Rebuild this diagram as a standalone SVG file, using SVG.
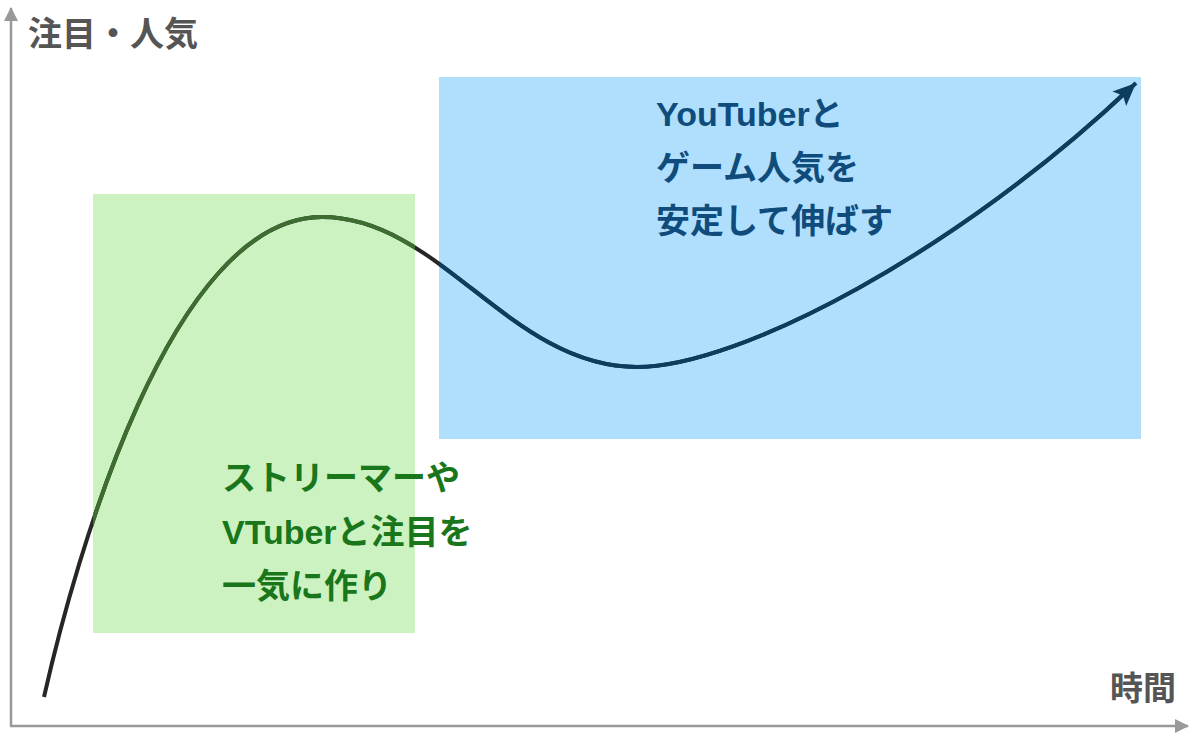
<svg xmlns="http://www.w3.org/2000/svg" width="1200" height="739" viewBox="0 0 1200 739">
<style>
  .lbl { font-family: "Liberation Sans", "Noto Sans CJK JP", sans-serif; font-weight: bold; font-size: 34px; }
  .axis { stroke: #999999; stroke-width: 2.5; fill: none; }
  .curve { fill: none; stroke-width: 4; stroke-linecap: butt; }
</style>
<defs>
  <clipPath id="clipGreen"><rect x="93" y="194" width="322" height="439"/></clipPath>
  <clipPath id="clipBlue"><rect x="439" y="77" width="702" height="362"/></clipPath>
  <marker id="axisHead" markerUnits="userSpaceOnUse" markerWidth="16" markerHeight="16" refX="13" refY="7" orient="auto">
    <path d="M0,0 L14,7 L0,14 z" fill="#999999"/>
  </marker>
  <marker id="curveHead" markerUnits="userSpaceOnUse" markerWidth="26" markerHeight="22" refX="23" refY="10" orient="auto">
    <path d="M0,0 L23,10 L0,20 L5,10 z" fill="#0b3d60"/>
  </marker>
</defs>

<g id="zone-green">
  <rect x="93" y="194" width="322" height="439" fill="#ccf2c2"/>
</g>
<g id="zone-blue">
  <rect x="439" y="77" width="702" height="362" fill="#b0dffe"/>
</g>

<g id="axes">
  <path class="axis" d="M11,726 L11,8" marker-end="url(#axisHead)"/>
  <path class="axis" d="M10,726 L1188,726" marker-end="url(#axisHead)"/>
</g>

<g id="connectors">
  <path class="curve" stroke="#262626" d="M44,697 C75,560 170,217 322,217 C440,217 510,367 637,367 C740,367 960,250 1130,88"/>
  <path class="curve" stroke="#3d6e30" clip-path="url(#clipGreen)" d="M44,697 C75,560 170,217 322,217 C440,217 510,367 637,367 C740,367 960,250 1130,88"/>
  <path class="curve" stroke="#0b3d60" clip-path="url(#clipBlue)" d="M44,697 C75,560 170,217 322,217 C440,217 510,367 637,367 C740,367 960,250 1136,83" marker-end="url(#curveHead)"/>
</g>

<g id="label-y">
  <text class="lbl" x="28" y="46" fill="#555555">注目・人気</text>
</g>
<g id="label-x">
  <text class="lbl" x="1110" y="700" fill="#555555" style="font-size:33px">時間</text>
</g>

<g id="text-green">
  <text class="lbl" x="222" y="490" fill="#19761a">ストリーマーや</text>
  <text class="lbl" x="222" y="544" fill="#19761a">VTuberと注目を</text>
  <text class="lbl" x="222" y="598" fill="#19761a">一気に作り</text>
</g>

<g id="text-blue">
  <text class="lbl" x="656" y="126" fill="#0f4c7b">YouTuberと</text>
  <text class="lbl" x="656" y="180" fill="#0f4c7b">ゲーム人気を</text>
  <text class="lbl" x="656" y="233" fill="#0f4c7b">安定して伸ばす</text>
</g>
</svg>
